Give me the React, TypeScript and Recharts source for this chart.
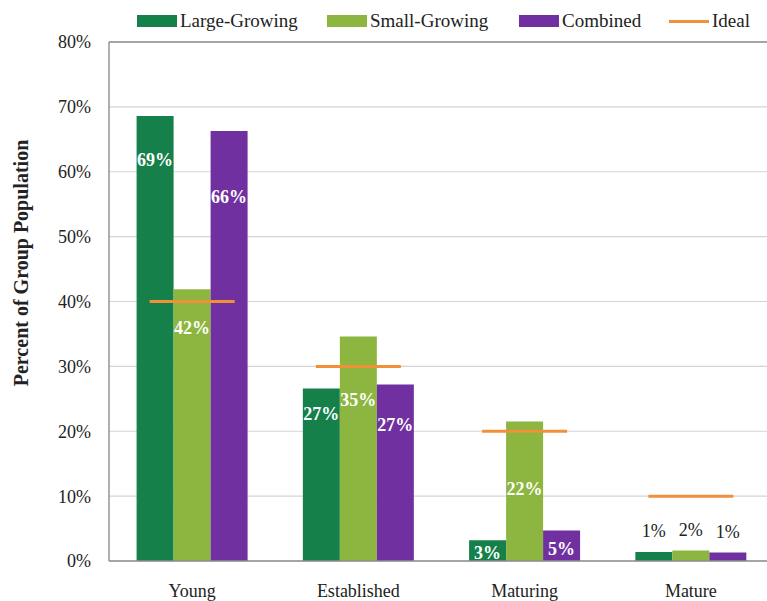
import React from 'react';
import {
  ComposedChart, Bar, Scatter, XAxis, YAxis, CartesianGrid, LabelList, ReferenceLine,
} from 'recharts';

const categories = ['Young', 'Established', 'Maturing', 'Mature'];
const largeGrowing = [68.6, 26.6, 3.2, 1.4];
const smallGrowing = [41.9, 34.6, 21.5, 1.6];
const combined = [66.3, 27.2, 4.7, 1.3];
const ideal = [40, 30, 20, 10];
const yTicks = [0, 10, 20, 30, 40, 50, 60, 70, 80];
const seriesNames = ['Large-Growing', 'Small-Growing', 'Combined', 'Ideal'];

// label placement (px below bar top; negative = above the bar)
const labelDropLarge = [44, 26, 13, -21];
const labelDropSmall = [39, 63, 67, -21];
const labelDropCombined = [66, 40, 18, -21];

const C_LARGE = '#15804A';
const C_SMALL = '#8CB640';
const C_COMB = '#7030A0';
const C_IDEAL = '#F0913A';
const C_AXIS = '#8E8E8E';
const C_GRID = '#D4D4D4';
const C_TEXT = '#222222';
const FONT = 'Liberation Serif, Tinos, Times New Roman, DejaVu Serif, serif';

const data = categories.map((c, i) => ({
  category: c,
  large: largeGrowing[i],
  small: smallGrowing[i],
  combined: combined[i],
  ideal: ideal[i],
}));

const makeLabel = (drops: number[]) => (props: any) => {
  const vb = props.viewBox || {};
  const x = props.x ?? vb.x;
  const y = props.y ?? vb.y;
  const width = props.width ?? vb.width;
  const index = props.index ?? 0;
  const value = props.value;
  if (x == null || y == null || value == null) return null;
  const drop = drops[index] ?? 20;
  const above = drop < 0;
  return (
    <text
      x={x + width / 2}
      y={y + drop}
      textAnchor="middle"
      dominantBaseline="central"
      fill={above ? C_TEXT : '#FFFFFF'}
      fontWeight={above ? 'normal' : 'bold'}
      fontSize={18}
      style={{ fontFamily: FONT }}
    >
      {`${Math.round(value)}%`}
    </text>
  );
};

const IdealMark = (props: any) => {
  const { cx, cy } = props;
  if (cx == null || cy == null) return null;
  return <line x1={cx - 42.5} x2={cx + 42.5} y1={cy} y2={cy} stroke={C_IDEAL} strokeWidth={3} />;
};

const YTitle = () => (
  <text
    x={28}
    y={263}
    transform="rotate(-90 28 263)"
    textAnchor="middle"
    fontWeight="bold"
    fontSize={20}
    fill={C_TEXT}
    style={{ fontFamily: FONT }}
  >
    Percent of Group Population
  </text>
);

const legendLefts = [137, 327, 519, 669];
const legendColors = [C_LARGE, C_SMALL, C_COMB, C_IDEAL];

export default function App() {
  return (
    <div style={{ position: 'absolute', left: 0, top: 0, width: 767, height: 601, background: '#fff', fontFamily: FONT }}>
      <ComposedChart
        width={767}
        height={601}
        data={data}
        margin={{ top: 42, right: -7, bottom: 0, left: 0 }}
        barCategoryGap="16.6%"
        barGap={0}
        style={{ fontFamily: FONT }}
      >
        <CartesianGrid vertical={false} stroke={C_GRID} strokeWidth={1.2} />
        <XAxis
          dataKey="category"
          height={40}
          tickLine={false}
          tickSize={0}
          tickMargin={23}
          axisLine={{ stroke: C_AXIS, strokeWidth: 1.4 }}
          tick={{ fill: C_TEXT, fontSize: 18, style: { fontFamily: FONT } }}
        />
        <YAxis
          width={109}
          domain={[0, 80]}
          ticks={yTicks}
          tickFormatter={(v: number) => `${v}%`}
          tickLine={false}
          tickSize={0}
          tickMargin={18}
          axisLine={{ stroke: C_AXIS, strokeWidth: 1.4 }}
          tick={{ fill: C_TEXT, fontSize: 18, style: { fontFamily: FONT } }}
          label={<YTitle />}
        />
        <ReferenceLine y={80} stroke={C_AXIS} strokeWidth={1.4} />
        <Bar dataKey="large" name={seriesNames[0]} fill={C_LARGE} isAnimationActive={false}>
          <LabelList dataKey="large" content={makeLabel(labelDropLarge)} />
        </Bar>
        <Bar dataKey="small" name={seriesNames[1]} fill={C_SMALL} isAnimationActive={false}>
          <LabelList dataKey="small" content={makeLabel(labelDropSmall)} />
        </Bar>
        <Bar dataKey="combined" name={seriesNames[2]} fill={C_COMB} isAnimationActive={false}>
          <LabelList dataKey="combined" content={makeLabel(labelDropCombined)} />
        </Bar>
        <Scatter dataKey="ideal" name={seriesNames[3]} shape={<IdealMark />} isAnimationActive={false} />
      </ComposedChart>
      {seriesNames.map((name, i) => (
        <div
          key={name}
          style={{
            position: 'absolute',
            left: legendLefts[i],
            top: 10,
            height: 22,
            display: 'flex',
            alignItems: 'center',
            fontFamily: FONT,
            fontSize: 19,
            color: C_TEXT,
            whiteSpace: 'nowrap',
          }}
        >
          <span
            style={{
              display: 'inline-block',
              width: 40,
              height: i === 3 ? 3 : 12,
              background: legendColors[i],
              marginRight: 3,
            }}
          />
          <span>{name}</span>
        </div>
      ))}
    </div>
  );
}
